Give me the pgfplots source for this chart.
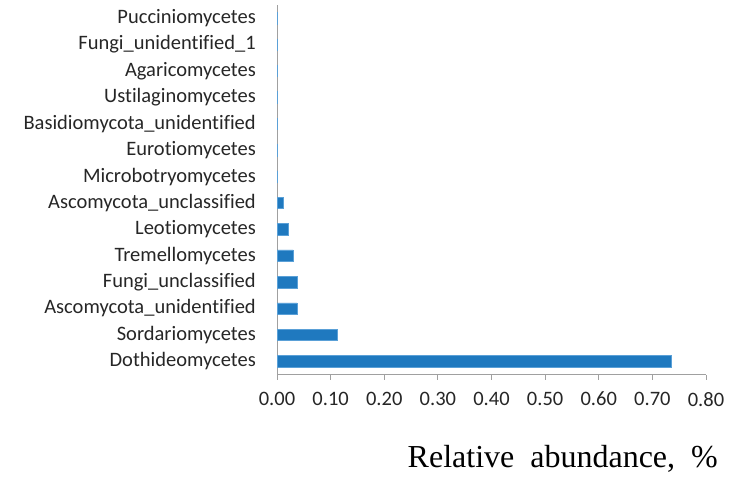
\documentclass[border=0pt]{standalone}
\usepackage{fontspec}
\setmainfont[Ligatures=NoCommon]{Carlito}
\newfontfamily\timesfont{Liberation Serif}
\usepackage{pgfplots}
\pgfplotsset{compat=1.18}

\definecolor{barblue}{RGB}{31,121,191}
\definecolor{baredge}{RGB}{90,160,215}
\definecolor{axisgray}{RGB}{160,160,160}

\begin{document}
\begin{tikzpicture}
\begin{axis}[
    name=ax,
    xbar,
    scale only axis,
    width=429pt, height=369.5pt,
    xmin=0, xmax=0.8,
    ymin=-0.5, ymax=13.5,
    bar width=11.5pt,
    axis x line*=bottom,
    axis y line*=left,
    axis line style={axisgray, line width=0.9pt},
    xtick={0,0.1,...,0.8},
    xtick style={axisgray, line width=0.9pt},
    major tick length=5pt,
    tick align=outside,
    ytick={0,...,13},
    yticklabels={Dothideomycetes, Sordariomycetes, Ascomycota\_unidentified,
        Fungi\_unclassified, Tremellomycetes, Leotiomycetes,
        Ascomycota\_unclassified, Microbotryomycetes, Eurotiomycetes,
        Basidiomycota\_unidentified, Ustilaginomycetes, Agaricomycetes,
        Fungi\_unidentified\_1, Pucciniomycetes},
    ytick style={draw=none},
    minor ytick={-0.5,0.5,...,13.5},
    minor tick length=5pt,
    minor y tick style={axisgray, line width=0.9pt},
    yticklabel style={font=\fontsize{20.5}{23}\selectfont, text=black!85, inner sep=0pt, xshift=-16pt},
    xticklabel style={font=\fontsize{20.5}{23}\selectfont, text=black!85, /pgf/number format/.cd, fixed, fixed zerofill, precision=2},
    /pgf/number format/assume math mode=true,
    xticklabel shift=9pt,
    clip=false,
]
\addplot[fill=barblue, draw=baredge, line width=0.5pt] coordinates {
    (0.736,0) (0.113,1) (0.037,2) (0.037,3) (0.030,4) (0.021,5) (0.011,6)
    (0.001,7) (0.001,8) (0.001,9) (0.0005,10) (0.0005,11) (0.0003,12) (0.0003,13)
};
\end{axis}
\node[anchor=base east, font=\timesfont\fontsize{32}{36}\selectfont, inner sep=0pt]
    at ([shift={(12pt,-93pt)}]ax.south east) {Relative\hspace{0.5em}abundance,\hspace{0.5em}\%};
\path[use as bounding box] ([shift={(-277pt,-101.5pt)}]ax.south west) rectangle ([shift={(38pt,5pt)}]ax.north east);
\end{tikzpicture}
\end{document}
